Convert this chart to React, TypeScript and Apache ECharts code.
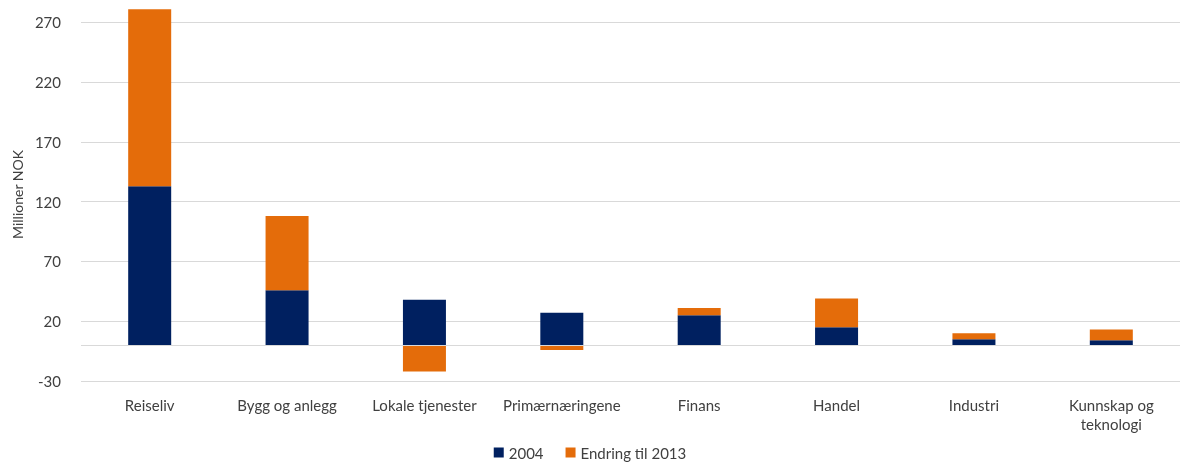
import React, { useEffect, useRef } from "react";
import * as echarts from "echarts";

const categories = [
  "Reiseliv",
  "Bygg og anlegg",
  "Lokale tjenester",
  "Primærnæringene",
  "Finans",
  "Handel",
  "Industri",
  "Kunnskap og\nteknologi",
];
const values2004 = [133, 46, 38, 27, 25, 15, 5, 4];
const change2013 = [148, 62, -22, -4, 6, 24, 5, 9];
const seriesNames = ["2004", "Endring til 2013"];
const colors = ["#002060", "#E46C0A"];
const yMin = -30;
const yMax = 282;
const yInterval = 50;

export default function App() {
  const ref = useRef<HTMLDivElement>(null);
  useEffect(() => {
    if (!ref.current) return;
    const chart = echarts.init(ref.current, undefined, { renderer: "svg" });
    const font = "Lato, 'Open Sans', sans-serif";
    chart.setOption({
      animation: false,
      textStyle: { fontFamily: font },
      grid: { left: 81, width: 1104, top: 8, bottom: 85 },
      legend: {
        bottom: 1,
        left: "center",
        itemWidth: 10,
        itemHeight: 10,
        itemGap: 22,
        icon: "rect",
        textStyle: { fontSize: 15, color: "#404040", fontFamily: font },
        data: seriesNames,
      },
      xAxis: {
        type: "category",
        data: categories,
        axisLine: { show: false, onZero: false },
        axisTick: { show: false },
        axisLabel: {
          fontSize: 15,
          color: "#404040",
          margin: 14,
          lineHeight: 19,
          interval: 0,
          fontFamily: font,
        },
      },
      yAxis: {
        type: "value",
        min: yMin,
        max: yMax,
        interval: yInterval,
        name: "Millioner NOK",
        nameLocation: "middle",
        nameGap: 56,
        nameTextStyle: { fontSize: 14, color: "#404040", fontFamily: font },
        axisLine: { show: false },
        axisTick: { show: false },
        axisLabel: {
          fontSize: 15,
          color: "#404040",
          margin: 20,
          showMaxLabel: false,
          fontFamily: font,
        },
        splitLine: { show: true, showMaxLine: false, lineStyle: { color: "#D9D9D9", width: 1 } },
      },
      series: [
        {
          name: seriesNames[0],
          type: "bar",
          stack: "total",
          barWidth: 43,
          data: values2004,
          itemStyle: { color: colors[0] },
          markLine: {
            silent: true,
            symbol: "none",
            label: { show: false },
            lineStyle: { color: "#D9D9D9", width: 1, type: "solid" },
            data: [{ yAxis: 0 }],
          },
        },
        {
          name: seriesNames[1],
          type: "bar",
          stack: "total",
          barWidth: 43,
          data: change2013,
          itemStyle: { color: colors[1] },
        },
      ],
    });
    return () => chart.dispose();
  }, []);
  return (
    <div
      ref={ref}
      style={{ position: "fixed", left: 0, top: 0, width: 1180, height: 466 }}
    />
  );
}
